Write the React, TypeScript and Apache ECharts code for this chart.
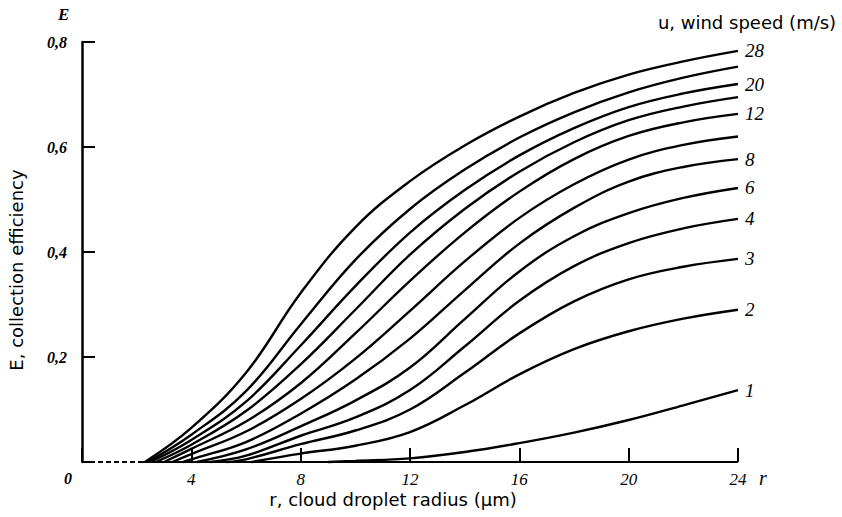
import React, { useEffect, useRef } from "react";
import * as echarts from "echarts";

// Radius grid (µm) at which the efficiencies were read
const RADII = [4, 6, 8, 10, 12, 14, 16, 18, 20, 22, 24];
// Wind speed (m/s) of each curve, top to bottom
const WIND_SPEEDS = [28, 24, 20, 16, 12, 10, 8, 6, 4, 3, 2, 1];
// Speeds that carry a label in the figure
const LABELED_SPEEDS = [28, 20, 12, 8, 6, 4, 3, 2, 1];
// Radius where each curve leaves the axis (E = 0)
const START_R = [2.3, 2.4, 2.5, 2.7, 3.0, 3.3, 3.7, 4.2, 4.7, 5.3, 6.2, 9.0];

// Collection efficiency E at RADII (null = curve not yet started)
const E_U28 = [0.065, 0.17, 0.322, 0.447, 0.535, 0.603, 0.658, 0.703, 0.738, 0.763, 0.783];
const E_U24 = [0.052, 0.135, 0.262, 0.385, 0.482, 0.557, 0.618, 0.666, 0.704, 0.732, 0.753];
const E_U20 = [0.042, 0.115, 0.222, 0.335, 0.437, 0.518, 0.584, 0.636, 0.676, 0.702, 0.72];
const E_U16 = [0.033, 0.097, 0.186, 0.29, 0.395, 0.482, 0.553, 0.609, 0.651, 0.677, 0.695];
const E_U12 = [0.025, 0.077, 0.15, 0.245, 0.345, 0.437, 0.515, 0.577, 0.621, 0.647, 0.663];
const E_U10 = [0.015, 0.058, 0.12, 0.197, 0.288, 0.382, 0.465, 0.529, 0.576, 0.604, 0.62];
const E_U8 = [0.005, 0.038, 0.092, 0.157, 0.235, 0.327, 0.416, 0.484, 0.534, 0.562, 0.577];
const E_U6 = [null, 0.024, 0.068, 0.117, 0.18, 0.272, 0.363, 0.43, 0.474, 0.503, 0.522];
const E_U4 = [null, 0.012, 0.05, 0.085, 0.137, 0.22, 0.307, 0.373, 0.417, 0.445, 0.463];
const E_U3 = [null, 0.005, 0.034, 0.06, 0.1, 0.17, 0.245, 0.306, 0.348, 0.372, 0.387];
const E_U2 = [null, null, 0.016, 0.031, 0.057, 0.108, 0.167, 0.215, 0.249, 0.273, 0.29];
const E_U1 = [null, null, null, 0.002, 0.007, 0.019, 0.036, 0.056, 0.08, 0.108, 0.137];

const E_SERIES = [E_U28, E_U24, E_U20, E_U16, E_U12, E_U10, E_U8, E_U6, E_U4, E_U3, E_U2, E_U1];

// Axis range and tick labels
const X_MIN = 0;
const X_MAX = 24;
const X_INTERVAL = 4;
const Y_MIN = 0;
const Y_MAX = 0.8;
const Y_INTERVAL = 0.2;
const AXIS_DASH_END = 2.2;

const SERIF = "'Liberation Serif', 'DejaVu Serif', serif";
const SANS = "'DejaVu Sans', 'Liberation Sans', sans-serif";

export default function App() {
  const ref = useRef<HTMLDivElement>(null);

  useEffect(() => {
    if (!ref.current) return;
    const chart = echarts.init(ref.current, null, { renderer: "svg" });

    const curveSeries = WIND_SPEEDS.map((u, k) => {
      const pts: [number, number][] = [[START_R[k], 0]];
      E_SERIES[k].forEach((e, i) => {
        if (e !== null && e !== undefined) pts.push([RADII[i], e as number]);
      });
      const labeled = LABELED_SPEEDS.includes(u);
      return {
        name: `u = ${u}`,
        type: "line",
        data: pts,
        smooth: 0.4,
        showSymbol: false,
        symbol: "none",
        clip: false,
        lineStyle: { color: "#000", width: 2.4 },
        endLabel: labeled
          ? {
              show: true,
              formatter: String(u),
              distance: 7,
              color: "#000",
              fontFamily: SERIF,
              fontStyle: "italic",
              fontSize: 19,
            }
          : { show: false },
        z: 3,
      };
    });

    const option = {
      animation: false,
      backgroundColor: "#fff",
      grid: {
        left: 82,
        top: 42,
        width: 656,
        height: 420,
        outerBoundsMode: "none",
        containLabel: false,
      },
      xAxis: {
        type: "value",
        min: X_MIN,
        max: X_MAX,
        interval: X_INTERVAL,
        axisLine: { show: false },
        splitLine: { show: false },
        axisTick: {
          show: true,
          inside: true,
          length: 14,
          lineStyle: { color: "#000", width: 2 },
        },
        axisLabel: {
          margin: 9,
          color: "#000",
          fontFamily: SERIF,
          fontStyle: "italic",
          fontSize: 17,
          formatter: (v: number) => (v === 0 ? "" : String(v)),
        },
      },
      yAxis: {
        type: "value",
        min: Y_MIN,
        max: Y_MAX,
        interval: Y_INTERVAL,
        axisLine: { show: true, lineStyle: { color: "#000", width: 2.5 } },
        splitLine: { show: false },
        axisTick: {
          show: true,
          inside: true,
          length: 13,
          lineStyle: { color: "#000", width: 2 },
        },
        axisLabel: {
          margin: 15,
          color: "#000",
          fontFamily: SERIF,
          fontStyle: "italic",
          fontWeight: "bold",
          fontSize: 16,
          formatter: (v: number) => (v === 0 ? "" : v.toFixed(1).replace(".", ",")),
        },
      },
      series: [
        {
          name: "axis-dashed",
          type: "line",
          data: [
            [X_MIN, 0],
            [AXIS_DASH_END, 0],
          ],
          showSymbol: false,
          symbol: "none",
          clip: false,
          silent: true,
          lineStyle: { color: "#000", width: 2, type: [5, 3] },
          z: 2,
        },
        {
          name: "axis-solid",
          type: "line",
          data: [
            [AXIS_DASH_END, 0],
            [X_MAX, 0],
          ],
          showSymbol: false,
          symbol: "none",
          clip: false,
          silent: true,
          lineStyle: { color: "#000", width: 2.2 },
          z: 2,
        },
        ...curveSeries,
      ],
      graphic: [
        {
          type: "text",
          left: 58,
          top: 6,
          style: {
            text: "E",
            fill: "#000",
            font: `italic bold 17px ${SERIF}`,
          },
        },
        {
          type: "text",
          left: 64,
          top: 470,
          style: {
            text: "0",
            fill: "#000",
            font: `italic bold 16px ${SERIF}`,
          },
        },
        {
          type: "text",
          left: 759,
          top: 468,
          style: {
            text: "r",
            fill: "#000",
            font: `italic 20px ${SERIF}`,
          },
        },
        {
          type: "text",
          x: 393,
          y: 499,
          style: {
            text: "r, cloud droplet radius (μm)",
            fill: "#000",
            font: `18px ${SANS}`,
            align: "center",
            verticalAlign: "middle",
          },
        },
        {
          type: "text",
          x: 16,
          y: 270,
          rotation: Math.PI / 2,
          style: {
            text: "E, collection efficiency",
            fill: "#000",
            font: `18px ${SANS}`,
            align: "center",
            verticalAlign: "middle",
          },
        },
        {
          type: "text",
          x: 747,
          y: 22,
          style: {
            text: "u, wind speed (m/s)",
            fill: "#000",
            font: `18px ${SANS}`,
            align: "center",
            verticalAlign: "middle",
          },
        },
      ],
    };

    chart.setOption(option as any);
    return () => {
      chart.dispose();
    };
  }, []);

  return (
    <div
      ref={ref}
      style={{ position: "absolute", left: 0, top: 0, width: 842, height: 517, background: "#fff" }}
    />
  );
}
